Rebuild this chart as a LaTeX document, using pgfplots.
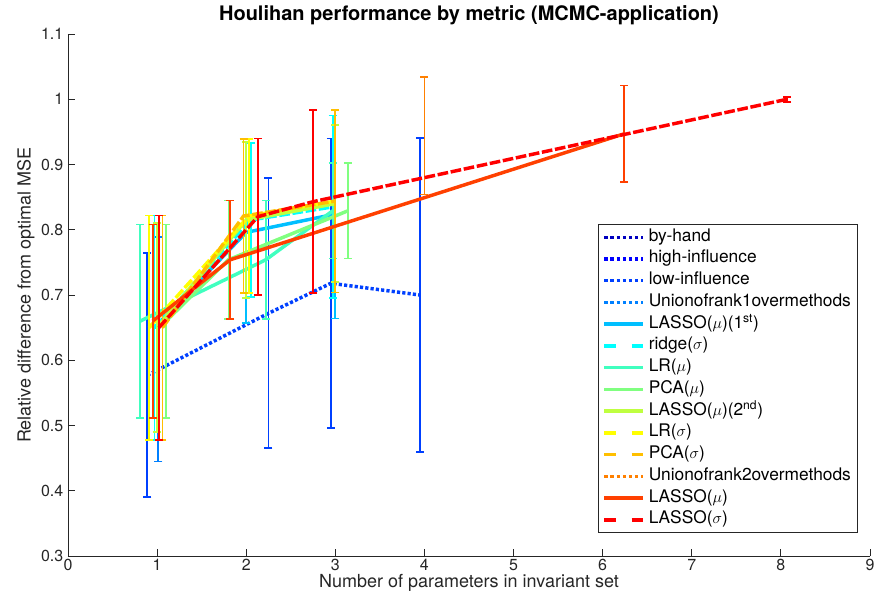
\documentclass[border=0pt]{standalone}
\usepackage{fontspec}
\setmainfont{TeX Gyre Heros}
\usepackage{pgfplots}
\pgfplotsset{compat=1.18}

% jet(16), first 14 colours
\definecolor{c1}{rgb}{0,0,0.75}
\definecolor{c2}{rgb}{0,0,1}
\definecolor{c3}{rgb}{0,0.25,1}
\definecolor{c4}{rgb}{0,0.5,1}
\definecolor{c5}{rgb}{0,0.75,1}
\definecolor{c6}{rgb}{0,1,1}
\definecolor{c7}{rgb}{0.25,1,0.75}
\definecolor{c8}{rgb}{0.5,1,0.5}
\definecolor{c9}{rgb}{0.75,1,0.25}
\definecolor{c10}{rgb}{1,1,0}
\definecolor{c11}{rgb}{1,0.75,0}
\definecolor{c12}{rgb}{1,0.5,0}
\definecolor{c13}{rgb}{1,0.25,0}
\definecolor{c14}{rgb}{1,0,0}
\definecolor{axgray}{rgb}{0.15,0.15,0.15}

\pgfplotsset{
  eb/.style={line width=2.6pt, mark=none,
    error bars/y dir=both, error bars/y explicit,
    error bars/error bar style={solid, line width=1.3pt},
    error bars/error mark options={solid, rotate=90, mark size=3pt, line width=1.3pt}},
  solidline/.style={eb, solid,
    legend image code/.code={\draw[##1, solid] (0pt,0pt) -- (29pt,0pt);}},
  dashline/.style={eb, dash pattern=on 8pt off 2pt,
    legend image code/.code={\draw[##1, solid] (0pt,0pt) -- (8.5pt,0pt); \draw[##1, solid] (20.5pt,0pt) -- (29pt,0pt);}},
  dotline/.style={eb, dash pattern=on 2.4pt off 1.6pt,
    legend image code/.code={\draw[##1, line width=2.4pt, dash pattern=on 2.6pt off 2pt] (0pt,0pt) -- (29pt,0pt);}},
}

\begin{document}
\begin{tikzpicture}
\begin{axis}[
    width=601.5pt, height=391.5pt, scale only axis,
    xmin=0, xmax=9, ymin=0.3, ymax=1.1,
    xtick={0,1,...,9},
    ytick={0.3,0.4,...,1.1},
    axis lines*=left,
    axis line style={axgray, line width=0.6pt},
    tick align=inside,
    major tick length=5pt,
    tick style={axgray, line width=0.6pt},
    every tick label/.append style={font=\fontsize{12}{13}\selectfont, text=axgray},
    xticklabel style={inner ysep=2pt},
    /pgf/number format/assume math mode=true,
    xlabel={Number of parameters in invariant set},
    ylabel={Relative difference from optimal MSE},
    label style={font=\fontsize{13.5}{15}\selectfont, text=axgray},
    xlabel style={yshift=3pt},
    ylabel style={yshift=-2pt},
    title={\textbf{Houlihan performance by metric (MCMC-application)}},
    title style={font=\fontsize{15}{17}\selectfont, yshift=-3pt},
    legend cell align=left,
    legend style={at={(0.985,0.044)}, anchor=south east,
      draw=axgray, line width=0.6pt,
      font=\fontsize{13}{14}\selectfont,
      row sep=0pt, column sep=1pt,
      nodes={text height=9pt, text depth=3pt, inner ysep=2.15pt},
      inner xsep=3pt, inner ysep=1.5pt},
]
% by-hand
\addplot[dotline, c1] coordinates {(1.01,0.617) +- (0,0.172)};
\addlegendentry{by-hand}
% high-influence
\addplot[dotline, c2] coordinates {(1.01,0.617) +- (0,0.172)};
\addlegendentry{high-influence}
% low-influence
\addplot[dotline, c3] coordinates {
  (0.89,0.577) +- (0,0.187)
  (2.25,0.672) +- (0,0.207)
  (2.95,0.718) +- (0,0.222)
  (3.95,0.700) +- (0,0.241)};
\addlegendentry{low-influence}
% union rank 1
\addplot[dotline, c4] coordinates {(1.01,0.617) +- (0,0.172)};
\addlegendentry{Unionofrank1overmethods}
% LASSO mu 1st
\addplot[solidline, c5] coordinates {
  (0.97,0.650) +- (0,0.172)
  (2.00,0.796) +- (0,0.139)
  (3.00,0.824) +- (0,0.160)};
\addlegendentry{LASSO($\mu$)(1\textsuperscript{st})}
% ridge sigma
\addplot[dashline, c6] coordinates {
  (0.97,0.650) +- (0,0.172)
  (2.05,0.815) +- (0,0.118)
  (2.97,0.835) +- (0,0.140)};
\addlegendentry{ridge($\sigma$)}
% LR mu
\addplot[solidline, c7] coordinates {
  (0.81,0.660) +- (0,0.148)
  (2.22,0.754) +- (0,0.091)
  (2.97,0.829) +- (0,0.073)};
\addlegendentry{LR($\mu$)}
% PCA mu
\addplot[solidline, c8] coordinates {
  (1.10,0.660) +- (0,0.148)
  (1.80,0.754) +- (0,0.091)
  (3.14,0.829) +- (0,0.073)};
\addlegendentry{PCA($\mu$)}
% LASSO mu 2nd
\addplot[solidline, c9] coordinates {
  (1.00,0.650) +- (0,0.160)
  (2.00,0.815) +- (0,0.120)
  (3.00,0.840) +- (0,0.120)};
\addlegendentry{LASSO($\mu$)(2\textsuperscript{nd})}
% LR sigma
\addplot[dashline, c10] coordinates {
  (0.91,0.650) +- (0,0.172)
  (2.03,0.821) +- (0,0.118)
  (3.00,0.844) +- (0,0.140)};
\addlegendentry{LR($\sigma$)}
% PCA sigma
\addplot[dashline, c11] coordinates {
  (1.06,0.650) +- (0,0.172)
  (1.97,0.821) +- (0,0.118)
  (3.00,0.844) +- (0,0.140)};
\addlegendentry{PCA($\sigma$)}
% union rank 2
\addplot[dotline, c12] coordinates {(4.00,0.944) +- (0,0.090)};
\addlegendentry{Unionofrank2overmethods}
% LASSO mu
\addplot[solidline, c13] coordinates {
  (0.95,0.660) +- (0,0.148)
  (1.82,0.754) +- (0,0.091)
  (6.24,0.947) +- (0,0.074)};
\addlegendentry{LASSO($\mu$)}
% LASSO sigma
\addplot[dashline, c14] coordinates {
  (1.02,0.650) +- (0,0.172)
  (2.13,0.820) +- (0,0.120)
  (2.75,0.843) +- (0,0.140)
  (8.07,1.000) +- (0,0.004)};
\addlegendentry{LASSO($\sigma$)}
\end{axis}
\pgfresetboundingbox
\path[use as bounding box] (-51pt,-28.5pt) rectangle (606.75pt,417pt);
\end{tikzpicture}
\end{document}
